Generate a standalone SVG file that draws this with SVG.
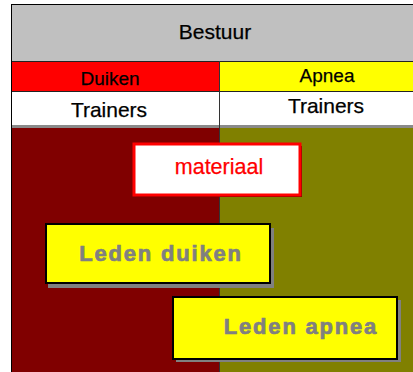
<svg xmlns="http://www.w3.org/2000/svg" width="413" height="372" viewBox="0 0 413 372">
<style>
.t{font-family:"Liberation Sans",Arial,sans-serif;text-anchor:middle;fill:#000;stroke:#000;stroke-width:0.25}
.lbl{font-family:"Liberation Sans",Arial,sans-serif;font-weight:bold;font-size:22px;letter-spacing:1.8px;fill:#808080;stroke:#808080;stroke-width:0.7;text-anchor:middle}
.sep{stroke:#222;stroke-width:1}
</style>
<rect width="413" height="372" fill="#fff"/>
<g id="bestuur">
<rect x="11" y="4" width="402" height="57" fill="#C0C0C0"/>
<text class="t" x="215" y="39" font-size="21">Bestuur</text>
</g>
<g id="duiken">
<rect x="11" y="61" width="208" height="31" fill="#FF0000"/>
<text class="t" x="110" y="85" font-size="19">Duiken</text>
</g>
<g id="apnea">
<rect x="219" y="61" width="194" height="31" fill="#FFFF00"/>
<text class="t" x="327" y="82" font-size="19">Apnea</text>
</g>
<g id="trainers-duiken">
<rect x="11" y="92" width="208" height="33" fill="#fff"/>
<text class="t" x="109" y="117" font-size="21">Trainers</text>
</g>
<g id="trainers-apnea">
<rect x="219" y="92" width="194" height="33" fill="#fff"/>
<text class="t" x="326" y="113" font-size="21">Trainers</text>
</g>
<g id="zone-duiken">
<rect x="11" y="128" width="208" height="244" fill="#800000"/>
</g>
<g id="zone-apnea">
<rect x="219" y="128" width="194" height="244" fill="#808000"/>
</g>
<g id="lines">
<rect x="11" y="125" width="402" height="3" fill="#8a8a8a"/>
<line class="sep" x1="11" y1="61.5" x2="413" y2="61.5"/>
<line class="sep" x1="11" y1="91.5" x2="413" y2="91.5"/>
<line x1="219.5" y1="61" x2="219.5" y2="372" stroke="#333" stroke-width="1"/>
<line x1="11" y1="4.5" x2="413" y2="4.5" stroke="#000" stroke-width="1"/>
<line x1="11.5" y1="4" x2="11.5" y2="372" stroke="#000" stroke-width="1"/>
</g>
<g id="materiaal">
<rect x="136" y="146" width="166" height="51" fill="#700000"/>
<rect x="134" y="144" width="166" height="51" fill="#fff" stroke="#FF0000" stroke-width="3"/>
<text class="t" x="219" y="174" font-size="21.5" style="fill:#FF0000;stroke:#FF0000">materiaal</text>
</g>
<g id="leden-duiken">
<rect x="48" y="228" width="226" height="60" fill="#808080"/>
<rect x="46" y="224" width="224" height="59" fill="#FFFF00" stroke="#000" stroke-width="2"/>
<text class="lbl" x="161" y="261">Leden duiken</text>
</g>
<g id="leden-apnea">
<rect x="176" y="300" width="225" height="62" fill="#808080"/>
<rect x="173" y="297" width="224" height="62" fill="#FFFF00" stroke="#000" stroke-width="2"/>
<text class="lbl" x="301" y="334">Leden apnea</text>
</g>
</svg>
